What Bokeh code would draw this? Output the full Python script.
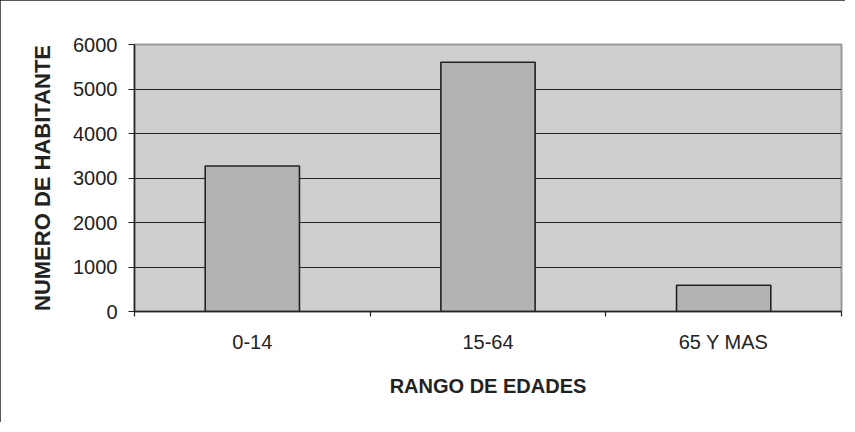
from bokeh.plotting import figure
from bokeh.models import FactorRange, Range1d, LinearAxis, FixedTicker, ColumnDataSource
from bokeh.embed import file_html
from bokeh.resources import INLINE

categories = ["0-14", "15-64", "65 Y MAS"]
habitantes = [3270, 5600, 590]
y_ticks = [0, 1000, 2000, 3000, 4000, 5000, 6000]

source = ColumnDataSource(data=dict(cat=categories, val=habitantes))

p = figure(
    x_range=FactorRange(*categories, range_padding=0),
    y_range=Range1d(0, 6000),
    width=845, height=422,
    output_backend="svg", toolbar_location=None,
    x_axis_location=None, y_axis_location=None,
    min_border_left=134, min_border_top=44, min_border_right=4, min_border_bottom=111,
    background_fill_color="#cfcfcf", border_fill_color="white",
)
p.styles = {"outline": "2px solid #222222", "outline-offset": "-2px"}

p.outline_line_color = "#999999"
p.outline_line_width = 2

p.vbar(x="cat", top="val", width=0.4, source=source,
       fill_color="#b3b3b3", line_color="#222222", line_width=1.6)

# x axis on the factor range's synthetic coordinates:
# labels at category centres, minor ticks at category boundaries
n = len(categories)
centres = [i + 0.5 for i in range(n)]
bounds = [float(i) for i in range(n + 1)]
x_axis = LinearAxis(ticker=FixedTicker(ticks=centres, minor_ticks=bounds),
                    major_label_overrides={c: name for c, name in zip(centres, categories)},
                    axis_line_color="#222222", axis_line_width=1.5,
                    major_tick_line_color=None, major_tick_out=0, major_tick_in=0,
                    minor_tick_line_color="#222222", minor_tick_line_width=1.2,
                    minor_tick_out=5, minor_tick_in=0,
                    major_label_standoff=14,
                    major_label_text_font="Liberation Sans",
                    major_label_text_font_size="20px",
                    major_label_text_color="#222222",
                    axis_label="RANGO DE EDADES",
                    axis_label_text_font="Liberation Sans",
                    axis_label_text_font_style="bold",
                    axis_label_text_font_size="20px",
                    axis_label_text_color="#222222",
                    axis_label_standoff=19)
p.add_layout(x_axis, "below")

y_axis = LinearAxis(ticker=FixedTicker(ticks=y_ticks),
                    axis_line_color="#222222", axis_line_width=1.5,
                    major_tick_line_color="#222222", major_tick_out=6, major_tick_in=0,
                    minor_tick_line_color=None,
                    major_label_standoff=11,
                    major_label_text_font="Liberation Sans",
                    major_label_text_font_size="20px",
                    major_label_text_color="#222222",
                    axis_label="NUMERO DE HABITANTE",
                    axis_label_text_font="Liberation Sans",
                    axis_label_text_font_style="bold",
                    axis_label_text_font_size="22px",
                    axis_label_text_color="#222222",
                    axis_label_standoff=15)
p.add_layout(y_axis, "left")

p.xgrid.visible = False
p.ygrid.ticker = FixedTicker(ticks=y_ticks[1:-1])
p.ygrid.grid_line_color = "#222222"
p.ygrid.grid_line_width = 1.2

open("out.html", "w").write(file_html(p, INLINE))
